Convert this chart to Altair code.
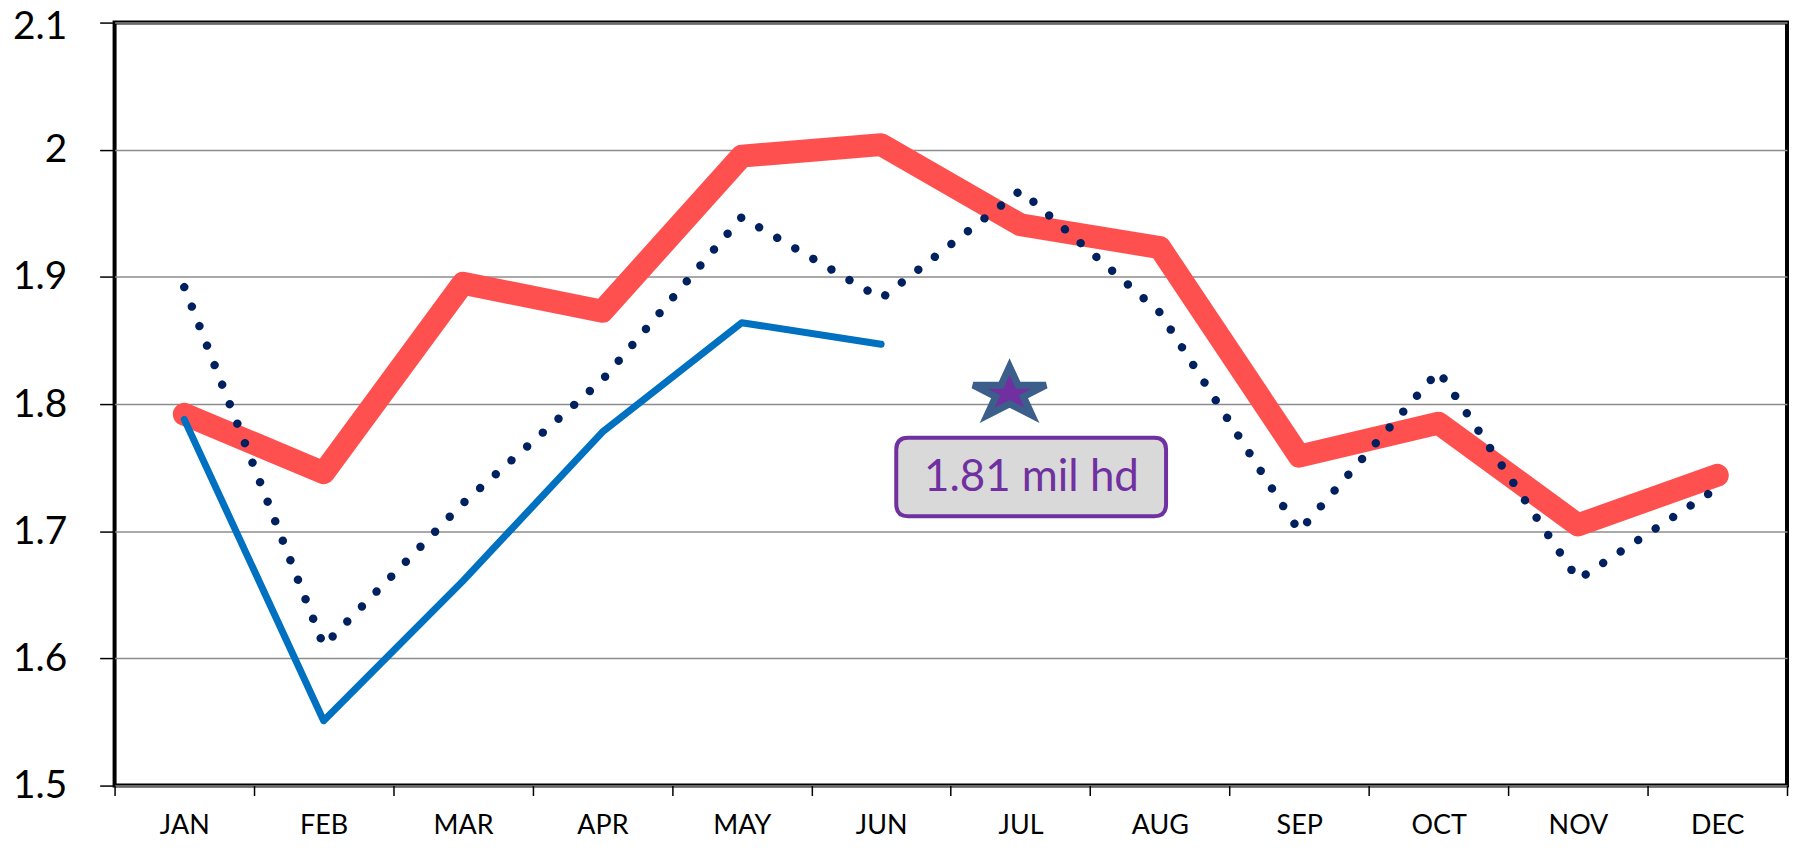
import math
import altair as alt
import pandas as pd

# ---------------- data ----------------
months = ["JAN", "FEB", "MAR", "APR", "MAY", "JUN",
          "JUL", "AUG", "SEP", "OCT", "NOV", "DEC"]
series_red = [1.792, 1.746, 1.895, 1.873, 1.995, 2.004,
              1.941, 1.923, 1.759, 1.785, 1.705, 1.744]
series_dotted = [1.892, 1.610, 1.722, 1.819, 1.947, 1.883,
                 1.968, 1.872, 1.700, 1.826, 1.662, 1.734]
blue_months = ["JAN", "FEB", "MAR", "APR", "MAY", "JUN"]
series_blue = [1.788, 1.551, 1.661, 1.778, 1.864, 1.847]
star_month = ["JUL"]
star_value = [1.81]
label_text = ["1.81 mil hd"]
y_ticks = [1.5, 1.6, 1.7, 1.8, 1.9, 2.0, 2.1]

red_df = pd.DataFrame({"month": months, "value": series_red})
dot_df = pd.DataFrame({"month": months, "value": series_dotted})
blue_df = pd.DataFrame({"month": blue_months, "value": series_blue})
ann_df = pd.DataFrame({"month": star_month, "value": star_value, "label": label_text})

# ---------------- shapes (style) ----------------
def star_path(xshift=-0.30, xs=1.0515, ys=0.74, yc=0.06):
    pts = []
    for i in range(10):
        r = 1.0 if i % 2 == 0 else 0.382
        a = math.radians(36 * i)
        x = r * math.sin(a) * xs + xshift
        y = -r * math.cos(a) * ys + yc
        pts.append(f"{x:.3f},{y:.3f}")
    return "M" + " L".join(pts) + " Z"

BOX_PATH = ("M-0.820,0.338 H0.976 Q1.063,0.338 1.063,0.425 V0.825 "
            "Q1.063,0.912 0.976,0.912 H-0.820 Q-0.907,0.912 -0.907,0.825 "
            "V0.425 Q-0.907,0.338 -0.820,0.338 Z")

# ---------------- encodings ----------------
x_enc = alt.X(
    "month:N", sort=months, bandPosition=0.5,
    scale=alt.Scale(type="band", domain=months, paddingInner=0, paddingOuter=0),
    axis=alt.Axis(title=None, labelAngle=0, tickBand="extent", domain=False,
                  ticks=True, tickSize=10, tickWidth=1.5, tickColor="black",
                  labelFont="Lato", labelFontSize=27, labelColor="black",
                  labelPadding=17, grid=False),
)
y_enc = alt.Y(
    "value:Q",
    scale=alt.Scale(domain=[1.5, 2.1], nice=False, zero=False),
    axis=alt.Axis(title=None, values=y_ticks, format=".1~f", domain=False,
                  tickSize=15, tickWidth=1.5, tickColor="black",
                  labelFont="Lato", labelFontSize=39, labelColor="black",
                  labelPadding=33, grid=True, gridColor="#8c8c8c",
                  gridWidth=1.5,
                  labelOffset={"condition": {"test": "datum.value > 2.05", "value": 4},
                               "value": 0}),
)

red = alt.Chart(red_df).mark_line(
    color="#FF5050", strokeWidth=23, strokeCap="round", strokeJoin="round"
).encode(x=x_enc, y=y_enc)

blue = alt.Chart(blue_df).mark_line(
    color="#0070C0", strokeWidth=7, strokeCap="round", strokeJoin="round"
).encode(x=x_enc, y=y_enc)

dotted = alt.Chart(dot_df).mark_line(
    color="#002060", strokeWidth=8.5, strokeCap="round", strokeJoin="round",
    strokeDash=[0.01, 21]
).encode(x=x_enc, y=y_enc)

star = alt.Chart(ann_df).mark_point(
    shape=star_path(), size=5330, fill="#7030A0", stroke="#3B5F8A",
    strokeWidth=7, opacity=1, fillOpacity=1, strokeOpacity=1, strokeJoin="miter"
).encode(x=x_enc, y=y_enc)

box = alt.Chart(ann_df).mark_point(
    shape=BOX_PATH, size=75625, fill="#D9D9D9", stroke="#7030A0",
    strokeWidth=4, opacity=1, fillOpacity=1, strokeOpacity=1
).encode(x=x_enc, y=y_enc)

label = alt.Chart(ann_df).mark_text(
    font="Lato", fontSize=44, color="#7030A0", align="center",
    baseline="middle", dx=11, dy=87
).encode(x=x_enc, y=y_enc, text="label:N")

chart = alt.layer(red, blue, dotted, star, box, label).properties(
    width=1679, height=766,
    autosize=alt.AutoSizeParams(type="none"),
    padding={"left": 107, "top": 13, "right": 2, "bottom": 54},
    background="white",
).configure_view(stroke="black", strokeWidth=4)

chart.save("out.html", embed_options={"renderer": "svg", "actions": False})
